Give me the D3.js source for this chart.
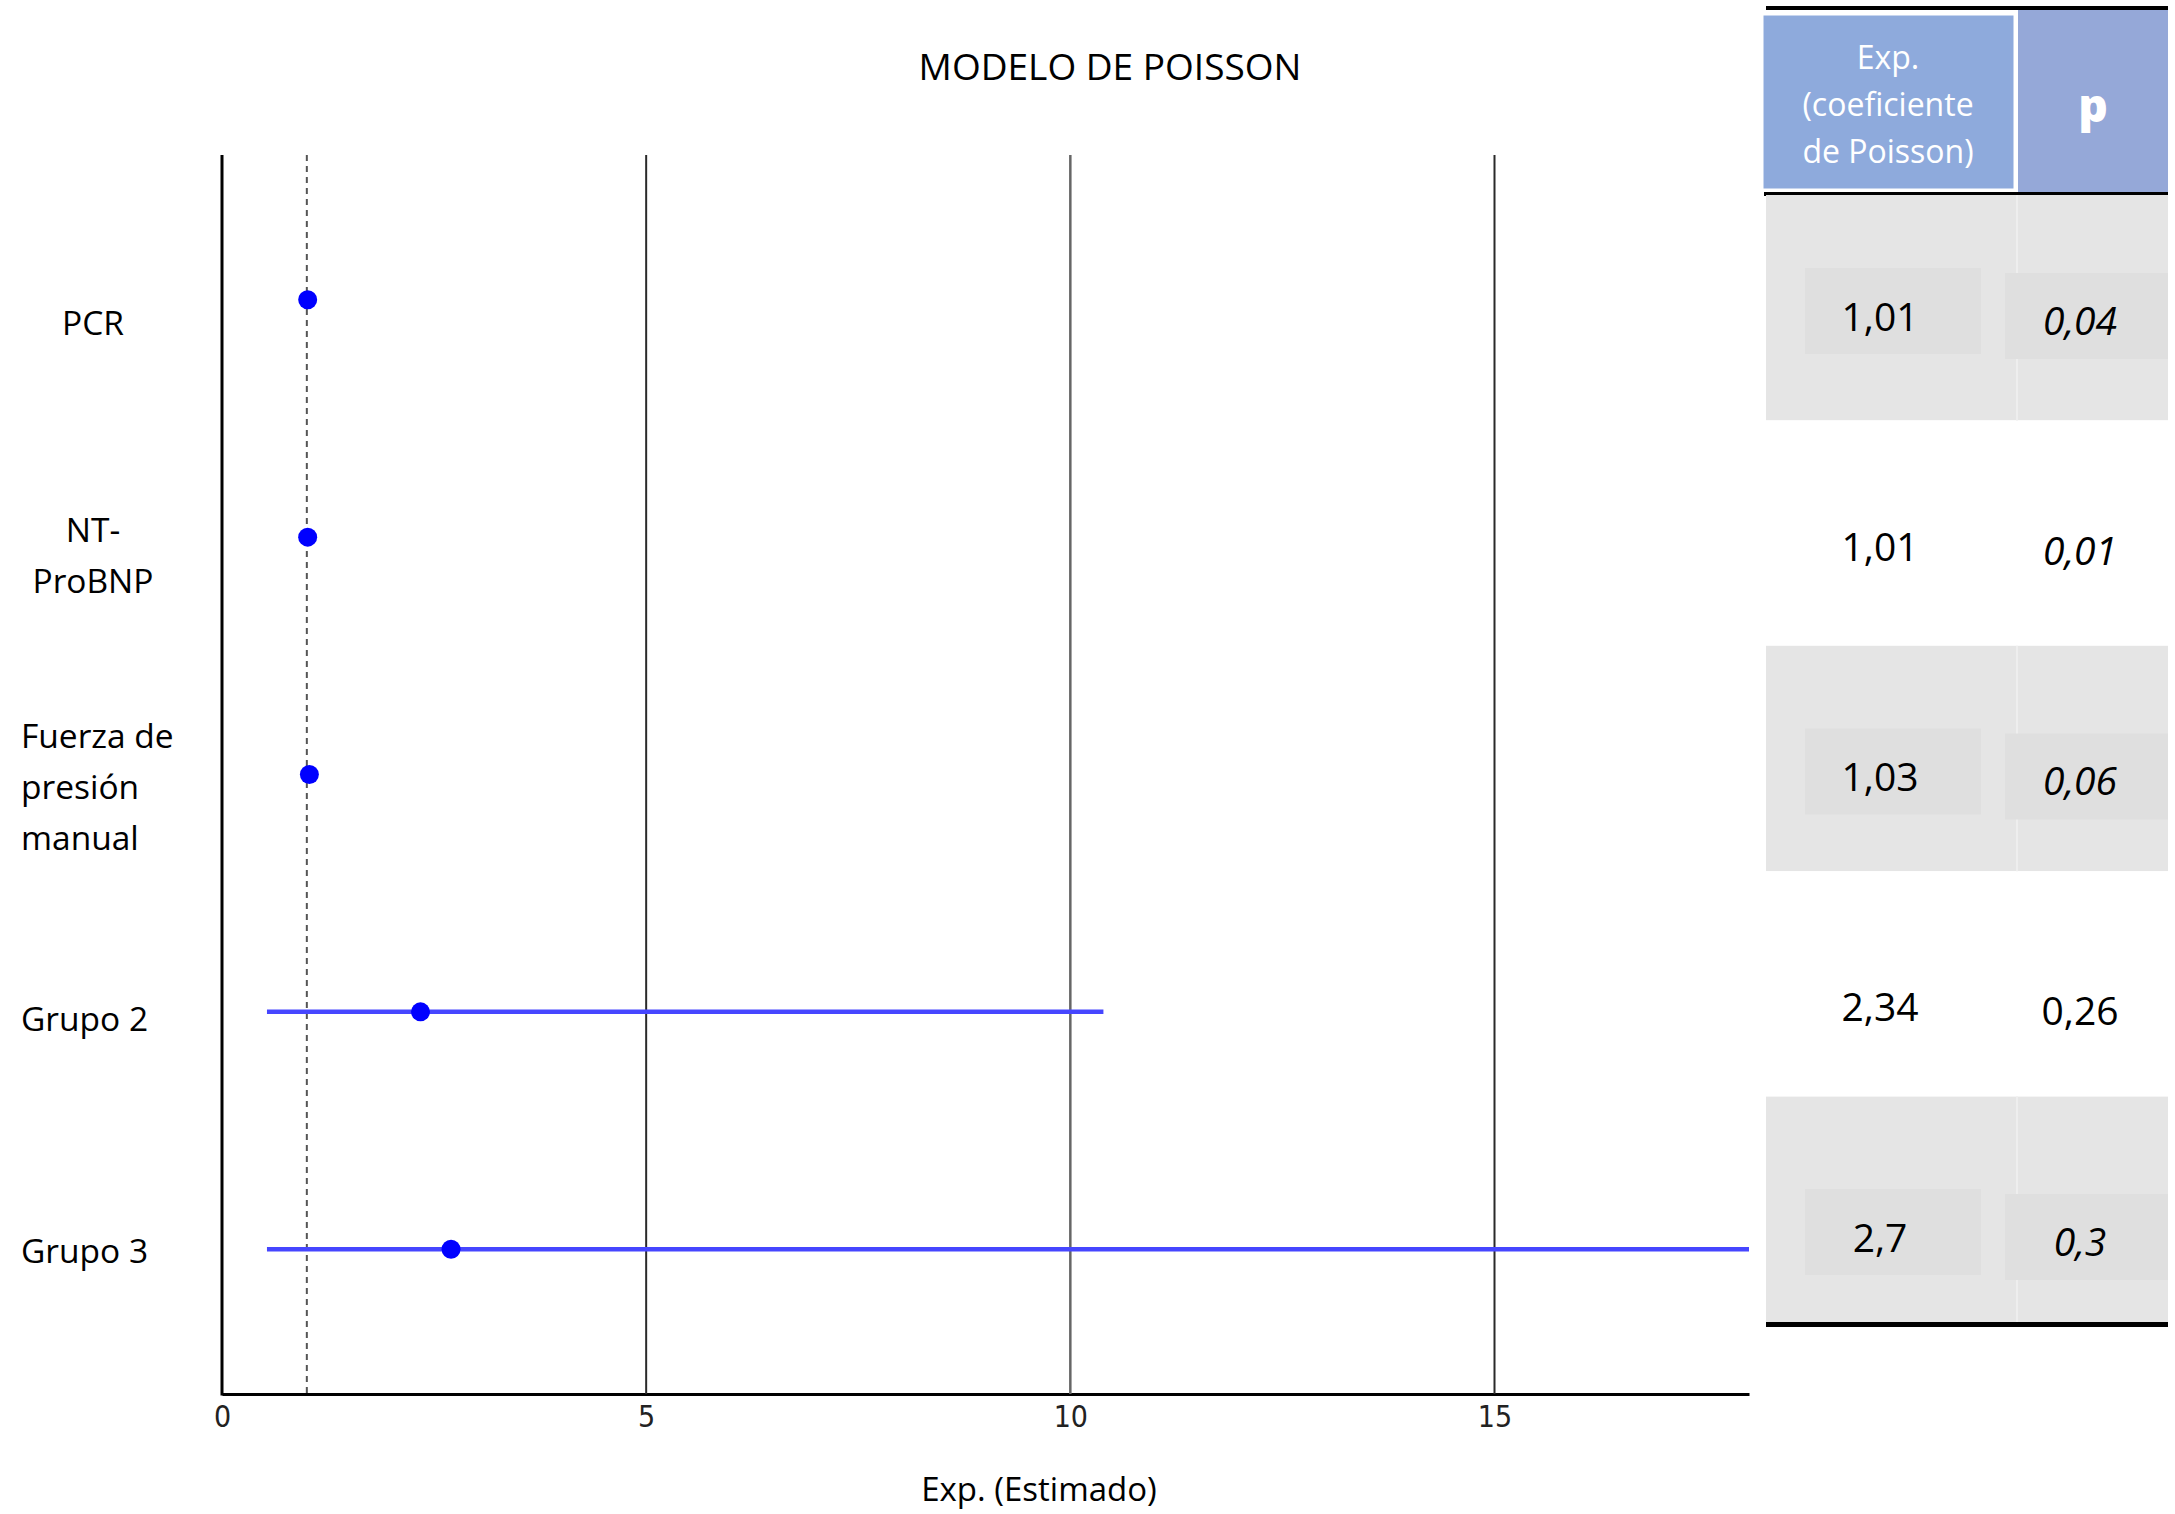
<!DOCTYPE html>
<html>
<head>
<meta charset="utf-8">
<script src="https://cdn.jsdelivr.net/npm/d3@7"></script>
<style>
  html, body { margin: 0; padding: 0; background: #ffffff; }
  svg { display: block; }
</style>
</head>
<body>
<div id="chart"></div>
<script>
// ---------------- DATA ----------------
const title = "MODELO DE POISSON";
const xAxisTitle = "Exp. (Estimado)";
const categories = ["PCR", "NT-ProBNP", "Fuerza de presión manual", "Grupo 2", "Grupo 3"];
const categoryLines = [["PCR"], ["NT-", "ProBNP"], ["Fuerza de", "presión", "manual"], ["Grupo 2"], ["Grupo 3"]];
const estimates = [1.01, 1.01, 1.03, 2.34, 2.70];
const ciLow = [1.00, 1.00, 1.00, 0.53, 0.53];
const ciHigh = [1.02, 1.02, 1.06, 10.39, 18.0];
const referenceValue = 1;
const xTicks = [0, 5, 10, 15];
const xDomain = [0, 18];

const tableHeaderExp = ["Exp.", "(coeficiente", "de Poisson)"];
const tableHeaderP = "p";
const tableExp = ["1,01", "1,01", "1,03", "2,34", "2,7"];
const tableP = ["0,04", "0,01", "0,06", "0,26", "0,3"];
const tablePItalic = [true, true, true, false, true];

// ---------------- LAYOUT ----------------
const W = 2175, H = 1514;
const plot = { left: 222, right: 1749, top: 155, bottom: 1394 };
const FONT = "'Open Sans', 'Noto Sans', sans-serif";

const svg = d3.select("#chart").append("svg")
  .attr("width", W).attr("height", H)
  .attr("viewBox", `0 0 ${W} ${H}`);

const x = d3.scaleLinear().domain(xDomain).range([plot.left, plot.right]);
const y = d3.scalePoint().domain(categories).range([plot.top, plot.bottom]).padding(0.61);
const yLabel = d3.scalePoint().domain(categories).range([322, 1250]);

// Title
svg.append("text")
  .attr("x", 1110).attr("y", 65)
  .attr("text-anchor", "middle").attr("dominant-baseline", "central")
  .style("font-family", FONT).style("font-size", "37px").style("fill", "#000")
  .text(title);

// Clip
svg.append("defs").append("clipPath").attr("id", "plotclip")
  .append("rect").attr("x", plot.left).attr("y", plot.top)
  .attr("width", plot.right - plot.left).attr("height", plot.bottom - plot.top);

// X axis
const xAxis = d3.axisBottom(x).tickValues(xTicks).tickSizeInner(0).tickSizeOuter(0).tickPadding(21)
  .tickFormat(d3.format("d"));
const gx = svg.append("g").attr("transform", `translate(0,${plot.bottom})`).call(xAxis);
gx.attr("font-size", null).attr("font-family", null);
gx.select(".domain").attr("stroke", "#000").attr("stroke-width", 3);
gx.selectAll(".tick text")
  .attr("font-family", "'DejaVu Sans Condensed', 'DejaVu Sans', sans-serif")
  .attr("font-size", 30)
  .style("font-family", "'DejaVu Sans Condensed', 'DejaVu Sans', sans-serif")
  .style("font-stretch", "condensed")
  .style("font-size", "30px").style("fill", "#222")
  .attr("dy", "0.4em");

// Gridlines at ticks (excluding 0, which is the y axis)
svg.append("g").selectAll("line")
  .data(xTicks.filter(d => d !== 0))
  .join("line")
  .attr("x1", d => x(d)).attr("x2", d => x(d))
  .attr("y1", plot.top).attr("y2", plot.bottom)
  .attr("stroke", d => d === 10 ? "#666" : "#2a2a2a")
  .attr("stroke-width", d => d === 10 ? 2.5 : 2);

// Y axis line
svg.append("line")
  .attr("x1", plot.left).attr("x2", plot.left)
  .attr("y1", plot.top).attr("y2", plot.bottom + 1.5)
  .attr("stroke", "#000").attr("stroke-width", 3);

// Reference dashed line
svg.append("line")
  .attr("x1", x(referenceValue)).attr("x2", x(referenceValue))
  .attr("y1", plot.top).attr("y2", plot.bottom)
  .attr("stroke", "#555").attr("stroke-width", 2)
  .attr("stroke-dasharray", "6,5");

// X axis title
svg.append("text")
  .attr("x", 1039).attr("y", 1488)
  .attr("text-anchor", "middle").attr("dominant-baseline", "central")
  .style("font-family", FONT).style("font-size", "33px").style("fill", "#000")
  .text(xAxisTitle);

// Category labels
const labelAlign = ["middle", "middle", "start", "start", "start"];
const labelX = { middle: 93, start: 21 };
const lineH = 51;
const lab = svg.append("g").selectAll("text")
  .data(categories)
  .join("text")
  .attr("text-anchor", (d, i) => labelAlign[i])
  .style("font-family", FONT).style("font-size", "33.5px").style("fill", "#000");
lab.each(function (d, i) {
  const lines = categoryLines[i];
  const cy = yLabel(d) - (lines.length - 1) * lineH / 2;
  d3.select(this).selectAll("tspan").data(lines).join("tspan")
    .attr("x", labelX[labelAlign[i]])
    .attr("y", (l, j) => cy + j * lineH)
    .attr("dominant-baseline", "central")
    .text(l => l);
});

// CI lines
const rows = categories.map((c, i) => ({ c, est: estimates[i], lo: ciLow[i], hi: ciHigh[i] }));
svg.append("g").attr("clip-path", "url(#plotclip)").selectAll("line")
  .data(rows)
  .join("line")
  .attr("x1", d => x(d.lo)).attr("x2", d => x(d.hi))
  .attr("y1", d => y(d.c)).attr("y2", d => y(d.c))
  .attr("stroke", "#4646ff").attr("stroke-width", 4.5);

// Points
svg.append("g").selectAll("circle")
  .data(rows)
  .join("circle")
  .attr("cx", d => x(d.est)).attr("cy", d => y(d.c))
  .attr("r", 9.5)
  .attr("fill", "#0000ff");

// ---------------- TABLE ----------------
const tbl = { left: 1766, mid: 2017, right: 2168, headTop: 10, headBottom: 192, bodyBottom: 1322 };
const rowBand = d3.scaleBand().domain(categories).range([tbl.headBottom + 3, tbl.bodyBottom]);
const rowText = d3.scalePoint().domain(categories).range([315, 1236]);
const colExpX = 1880, colPX = 2080;
const tg = svg.append("g");

// header cells
tg.append("rect").attr("x", tbl.mid + 1).attr("y", tbl.headTop)
  .attr("width", tbl.right - tbl.mid - 1).attr("height", tbl.headBottom - tbl.headTop)
  .attr("fill", "#95a8d8");
tg.append("rect").attr("x", 1762).attr("y", 14)
  .attr("width", tbl.mid - 1762 - 2).attr("height", tbl.headBottom - 14 - 2)
  .attr("fill", "#8eaadc").attr("stroke", "#fff").attr("stroke-width", 3);
// top & header bottom rules
tg.append("rect").attr("x", tbl.left).attr("y", 6).attr("width", tbl.right - tbl.left).attr("height", 4).attr("fill", "#000");
tg.append("rect").attr("x", tbl.left - 2).attr("y", tbl.headBottom).attr("width", tbl.right - tbl.left + 2).attr("height", 4).attr("fill", "#000");

// header text
tg.append("g").selectAll("text").data(tableHeaderExp).join("text")
  .attr("x", 1888).attr("y", (d, i) => 56 + i * 47)
  .attr("text-anchor", "middle").attr("dominant-baseline", "central")
  .style("font-family", FONT).style("font-size", "32px").style("fill", "#fff")
  .text(d => d);
tg.append("text")
  .attr("x", 2093).attr("y", 104)
  .attr("text-anchor", "middle").attr("dominant-baseline", "central")
  .style("font-family", FONT).style("font-size", "46px").style("font-weight", "800").style("fill", "#fff")
  .text(tableHeaderP);

// body bands (alternate gray)
tg.append("g").selectAll("rect").data(categories).join("rect")
  .attr("x", tbl.left).attr("y", d => rowBand(d))
  .attr("width", tbl.right - tbl.left).attr("height", rowBand.bandwidth())
  .attr("fill", (d, i) => i % 2 === 0 ? "#e5e5e5" : "#ffffff");
const grayRows = categories.filter((d, i) => i % 2 === 0);
// column divider in gray bands
tg.append("g").selectAll("line").data(grayRows).join("line")
  .attr("x1", tbl.mid).attr("x2", tbl.mid)
  .attr("y1", d => rowBand(d)).attr("y2", d => rowBand(d) + rowBand.bandwidth())
  .attr("stroke", "#eeeeee").attr("stroke-width", 2);
// inner boxes in gray rows
tg.append("g").selectAll("rect").data(grayRows).join("rect")
  .attr("x", 1805).attr("y", d => rowText(d) - 47).attr("width", 176).attr("height", 86)
  .attr("fill", "#dfdfdf");
tg.append("g").selectAll("rect").data(grayRows).join("rect")
  .attr("x", 2005).attr("y", d => rowText(d) - 42).attr("width", tbl.right - 2005).attr("height", 86)
  .attr("fill", "#dfdfdf");
// bottom rule
tg.append("rect").attr("x", tbl.left).attr("y", tbl.bodyBottom).attr("width", tbl.right - tbl.left).attr("height", 5).attr("fill", "#000");

// body text
tg.append("g").selectAll("text").data(categories).join("text")
  .attr("x", colExpX).attr("y", d => rowText(d))
  .attr("text-anchor", "middle").attr("dominant-baseline", "central")
  .style("font-family", FONT).style("font-size", "39px").style("fill", "#000")
  .text((d, i) => tableExp[i]);
tg.append("g").selectAll("text").data(categories).join("text")
  .attr("x", colPX).attr("y", d => rowText(d) + 4)
  .attr("text-anchor", "middle").attr("dominant-baseline", "central")
  .style("font-family", FONT).style("font-size", "39px").style("fill", "#000")
  .style("font-style", (d, i) => tablePItalic[i] ? "italic" : "normal")
  .text((d, i) => tableP[i]);
</script>
</body>
</html>
